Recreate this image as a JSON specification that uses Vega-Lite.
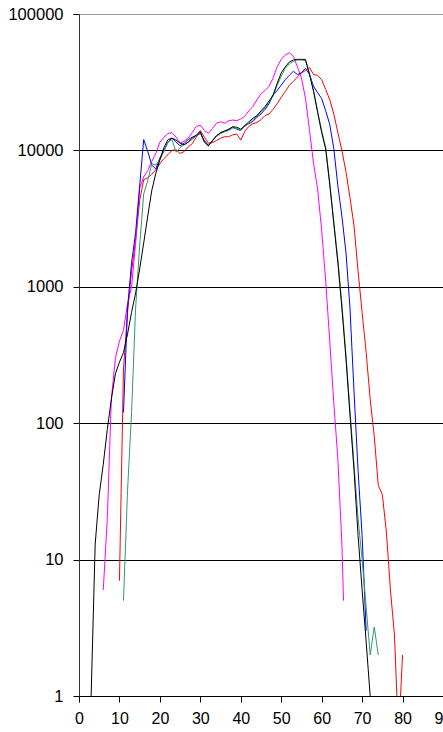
{
  "$schema": "https://vega.github.io/schema/vega-lite/v6.json",
  "autosize": {"type": "none"},
  "padding": {"left": 79, "top": 14, "right": 0, "bottom": 36},
  "width": 364,
  "height": 682,
  "background": "white",
  "config": {"view": {"stroke": null}},
  "datasets": {
    "s1": [[10,7],[11,250],[12,650],[13,1300],[14,2200],[15,4300],[16,6100],[17,6300],[18,6700],[19,7200],[20,8000],[21,8700],[22,9300],[23,10000],[24,10100],[25,9500],[26,9800],[27,10600],[28,11200],[29,12500],[30,14000],[31,12500],[32,11300],[33,11400],[34,11800],[35,12300],[36,12600],[37,12600],[38,13000],[39,13200],[40,11900],[41,13800],[42,15000],[43,15700],[44,16000],[45,16800],[46,18000],[47,18500],[48,20000],[49,22000],[50,24500],[51,27000],[52,30000],[53,32000],[54,34500],[55,37000],[56,38500],[57,40500],[58,36000],[59,35500],[60,33000],[61,28000],[62,23500],[63,18500],[64,13500],[65,10000],[66,7000],[67,4500],[68,2800],[69,1300],[70,650],[71,330],[72,150],[73,80],[74,35],[75,30],[76,16],[77,6],[78,2.8],[79,0.5],[80,2]],
    "s2": [[6,6],[7,20],[8,150],[9,300],[10,400],[11,480],[12,750],[13,1000],[14,2100],[15,5300],[16,6400],[17,7100],[18,8300],[19,9500],[20,11500],[21,12500],[22,13300],[23,13500],[24,12500],[25,11300],[26,11700],[27,12300],[28,13500],[29,15000],[30,15300],[31,14000],[32,13300],[33,14500],[34,15800],[35,16200],[36,15800],[37,16500],[38,16700],[39,16500],[40,17000],[41,17800],[42,19500],[43,21000],[44,23500],[45,26000],[46,27500],[47,29500],[48,34000],[49,41000],[50,46500],[51,50000],[52,52000],[53,49000],[54,41000],[55,34000],[56,24000],[57,14000],[58,8000],[59,5200],[60,2600],[61,1100],[62,400],[63,140],[64,55],[65,13],[65.4,5]],
    "s3": [[11,120],[12,700],[13,1500],[14,2500],[15,5500],[16,12000],[17,9800],[18,7800],[19,7300],[20,8800],[21,10000],[22,11500],[23,12300],[24,11500],[25,10800],[26,11300],[27,12000],[28,12500],[29,12800],[30,13300],[31,11800],[32,10900],[33,11800],[34,12800],[35,13400],[36,13800],[37,14200],[38,14800],[39,14300],[40,14000],[41,15200],[42,15700],[43,16300],[44,17500],[45,18500],[46,20000],[47,22000],[48,25500],[49,27500],[50,30000],[51,33000],[52,35500],[53,38000],[54,36000],[55,37000],[56,40000],[57,36000],[58,29500],[59,26500],[60,24000],[61,19500],[62,15500],[63,10300],[64,5500],[65,3300],[66,1800],[67,700],[68,170],[69,45],[70,15],[71,3]],
    "s4": [[11,5],[12,32],[13,120],[14,700],[15,2000],[16,4800],[17,6000],[18,8000],[19,7800],[20,8600],[21,9800],[22,11500],[23,12000],[24,9700],[25,10500],[26,11000],[27,11500],[28,12000],[29,12800],[30,13500],[31,11500],[32,10800],[33,11700],[34,12700],[35,13300],[36,13700],[37,14000],[38,14600],[39,14500],[40,14000],[41,15000],[42,15800],[43,16800],[44,17800],[45,19000],[46,20500],[47,22500],[48,25000],[49,30000],[50,35000],[51,40000],[52,43000],[53,45000],[54,46000],[55,46000],[56,45500],[57,36500],[58,27500],[59,19500],[60,14000],[61,10500],[62,5800],[63,3000],[64,1600],[65,750],[66,320],[67,125],[68,50],[69,20],[70,10],[71,4.5],[72,2],[73,3.2],[74,2]],
    "s5": [[3,1],[4,13],[5,30],[6,50],[7,90],[8,150],[9,230],[10,280],[11,330],[12,450],[13,650],[14,900],[15,1350],[16,2100],[17,3300],[18,5100],[19,6800],[20,8500],[21,10500],[22,12000],[23,12300],[24,11900],[25,11300],[26,11000],[27,11500],[28,12300],[29,13000],[30,13700],[31,11500],[32,10800],[33,11800],[34,12800],[35,13500],[36,13900],[37,14300],[38,14900],[39,14800],[40,14300],[41,15200],[42,16200],[43,17200],[44,18000],[45,19500],[46,21000],[47,23000],[48,25500],[49,31000],[50,37000],[51,41000],[52,44500],[53,46000],[54,46500],[55,46500],[56,46500],[57,36000],[58,27000],[59,19000],[60,13500],[61,10200],[62,5600],[63,2900],[64,1500],[65,700],[66,300],[67,115],[68,45],[69,15],[70,6],[71,2.5],[72,1]]
  },
  "data": {"name": "s1"},
  "encoding": {},
  "layer": [
    {"data": {"name": "s1"}, "mark": {"type": "line", "color": "#ff0000", "strokeWidth": 1, "clip": true},
     "encoding": {"x": {"field": "0", "type": "quantitative"}, "y": {"field": "1", "type": "quantitative"}}},
    {"data": {"name": "s2"}, "mark": {"type": "line", "color": "#ff00ff", "strokeWidth": 1, "clip": true},
     "encoding": {"x": {"field": "0", "type": "quantitative"}, "y": {"field": "1", "type": "quantitative"}}},
    {"data": {"name": "s3"}, "mark": {"type": "line", "color": "#0000ff", "strokeWidth": 1, "clip": true},
     "encoding": {"x": {"field": "0", "type": "quantitative"}, "y": {"field": "1", "type": "quantitative"}}},
    {"data": {"name": "s4"}, "mark": {"type": "line", "color": "#339966", "strokeWidth": 1, "clip": true},
     "encoding": {"x": {"field": "0", "type": "quantitative"}, "y": {"field": "1", "type": "quantitative"}}},
    {"data": {"name": "s5"}, "mark": {"type": "line", "color": "#000000", "strokeWidth": 1, "clip": true},
     "encoding": {
       "x": {"field": "0", "type": "quantitative",
             "scale": {"domain": [0, 90], "nice": false, "zero": false},
             "axis": {"title": null, "values": [0,10,20,30,40,50,60,70,80,90], "grid": false, "tickSize": 6, "tickColor": "#000", "domainColor": "#000", "labelFont": "Liberation Sans", "labelFontSize": 16, "labelColor": "#000", "labelPadding": 8, "labelFlush": false, "labelOverlap": false}},
       "y": {"field": "1", "type": "quantitative",
             "scale": {"type": "log", "domain": [1, 100000], "nice": false},
             "axis": {"title": null, "values": [1,10,100,1000,10000,100000], "format": "d", "grid": true, "gridColor": {"condition": {"test": "datum.value >= 100000", "value": "#999999"}, "value": "#000000"}, "gridOpacity": 1, "tickSize": 6, "tickColor": "#000", "domainColor": "#333", "labelFont": "Liberation Sans", "labelFontSize": 16.5, "labelColor": "#000", "labelPadding": 10, "labelFlush": false, "labelOverlap": false}}
     }}
  ]
}
